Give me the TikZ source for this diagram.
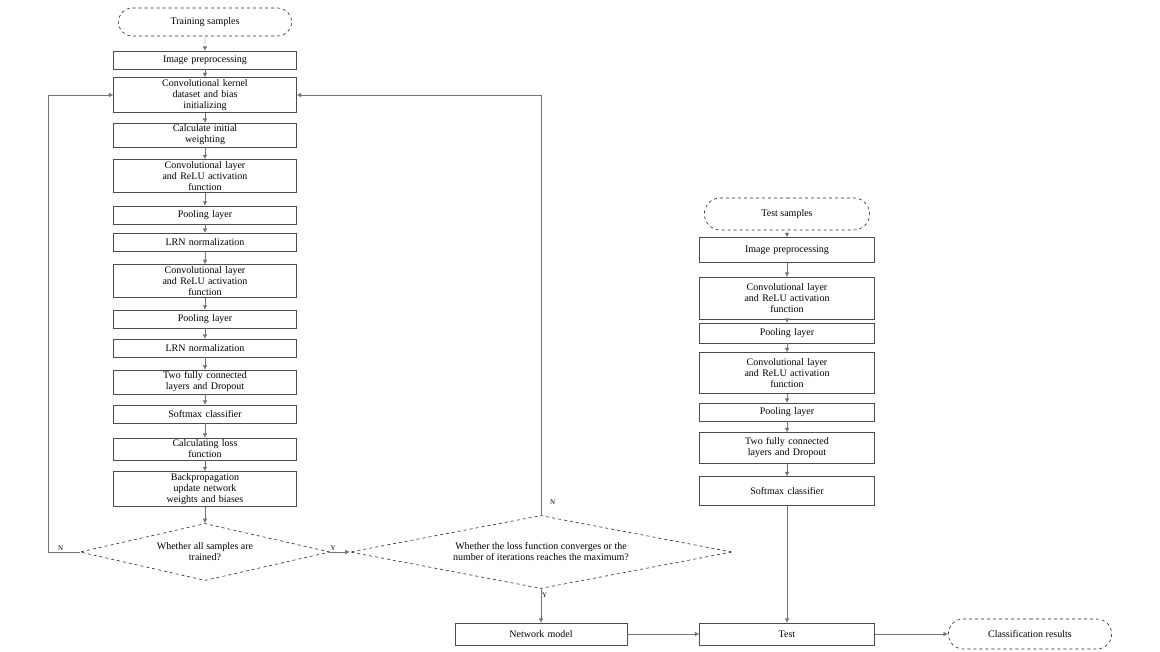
\documentclass[tikz,border=0pt]{standalone}
\usepackage{fontspec}
\setmainfont{Liberation Serif}
\usetikzlibrary{shapes.geometric,shapes.misc,arrows.meta}

\tikzset{
  proc/.style={rectangle, draw=black!70, text width=172pt, minimum width=183pt,
    align=center, font=\fontsize{10}{11}\selectfont, inner sep=2pt, minimum height=18pt},
  rproc/.style={proc, text width=166pt, minimum width=175pt},
  term/.style={rounded rectangle, draw=black!85, dashed, line width=0.6pt, minimum width=180pt,
    minimum height=28pt, font=\fontsize{10}{11}\selectfont},
  decision/.style={diamond, draw=black!85, dashed, line width=0.6pt, align=center,
    font=\fontsize{10}{11}\selectfont, inner sep=0pt},
  flow/.style={-{Latex[length=4.5pt,width=4.5pt]}, draw=black!55},
  yn/.style={font=\scriptsize, inner sep=1pt}
}

\begin{document}
\begin{tikzpicture}[x=1pt, y=-1pt]
    \useasboundingbox (0,0) rectangle (1160,651);

    % training branch
    \node[term] (train) at (205,22) {Training samples};
    \node[proc] (prep) at (205,60) {Image preprocessing};
    \node[proc] (init) at (205,95) {Convolutional kernel\\dataset and bias\\initializing};
    \node[proc] (calc) at (205,135) {Calculate initial\\weighting};
    \node[proc] (conv1) at (205,176) {Convolutional layer\\and ReLU activation\\function};
    \node[proc] (pool1) at (205,215) {Pooling layer};
    \node[proc] (lrn1) at (205,242) {LRN normalization};
    \node[proc] (conv2) at (205,281) {Convolutional layer\\and ReLU activation\\function};
    \node[proc] (pool2) at (205,319) {Pooling layer};
    \node[proc] (lrn2) at (205,348) {LRN normalization};
    \node[proc] (fc) at (205,382) {Two fully connected\\layers and Dropout};
    \node[proc] (soft) at (205,414) {Softmax classifier};
    \node[proc] (loss) at (205,449) {Calculating loss\\function};
    \node[proc] (bp) at (205,489) {Backpropagation\\update network\\weights and biases};

    \node[decision, aspect=4.4, minimum width=250pt, minimum height=57pt] (d1) at (205,552)
        {Whether all samples are\\trained?};
    \node[decision, aspect=5.2, minimum width=382pt, minimum height=73pt] (d2) at (541,552)
        {Whether the loss function converges or the\\number of iterations reaches the maximum?};

    \foreach \a/\b in {train/prep, prep/init, init/calc, calc/conv1, conv1/pool1,
        pool1/lrn1, lrn1/conv2, conv2/pool2, pool2/lrn2, lrn2/fc, fc/soft,
        soft/loss, loss/bp, bp/d1}
        \draw[flow] (\a) -- (\b);

    % loops back
    \coordinate (lk) at (48,552);
    \draw[flow] (d1.west) -- node[yn, above, pos=0.6] {N} (lk) |- (init.west);
    \draw[flow] (d1.east) -- node[yn, above, pos=0.15] {Y} (d2.west);
    \draw[flow] (d2.north) |- node[yn, right, pos=0.015, xshift=8pt] {N} (init.east);

    % test branch
    \node[term, minimum width=172pt, minimum height=32pt] (tsamp) at (787,214) {Test samples};
    \node[rproc, minimum height=25pt] (tprep) at (787,250) {Image preprocessing};
    \node[rproc, minimum height=42pt] (tconv1) at (787,298) {Convolutional layer\\and ReLU activation\\function};
    \node[rproc, minimum height=20pt] (tpool1) at (787,333) {Pooling layer};
    \node[rproc, minimum height=41pt] (tconv2) at (787,373) {Convolutional layer\\and ReLU activation\\function};
    \node[rproc] (tpool2) at (787,412) {Pooling layer};
    \node[rproc, minimum height=31pt] (tfc) at (787,448) {Two fully connected\\layers and Dropout};
    \node[rproc, minimum height=29pt] (tsoft) at (787,491) {Softmax classifier};

    \foreach \a/\b in {tsamp/tprep, tprep/tconv1, tconv1/tpool1, tpool1/tconv2,
        tconv2/tpool2, tpool2/tfc, tfc/tsoft}
        \draw[flow] (\a) -- (\b);

    % bottom row
    \node[proc, text width=160pt, minimum width=172pt, minimum height=22pt] (net) at (541,634) {Network model};
    \node[rproc, minimum height=22pt] (test) at (787,634) {Test};
    \node[term, minimum width=170pt, minimum height=30pt] (result) at (1030,634) {Classification results};

    \draw[flow] (d2.south) -- node[yn, right, pos=0.2] {Y} (net);
    \draw[flow] (net) -- (test);
    \draw[flow] (test) -- (result);
    \draw[flow] (tsoft) -- (test);
\end{tikzpicture}
\end{document}
